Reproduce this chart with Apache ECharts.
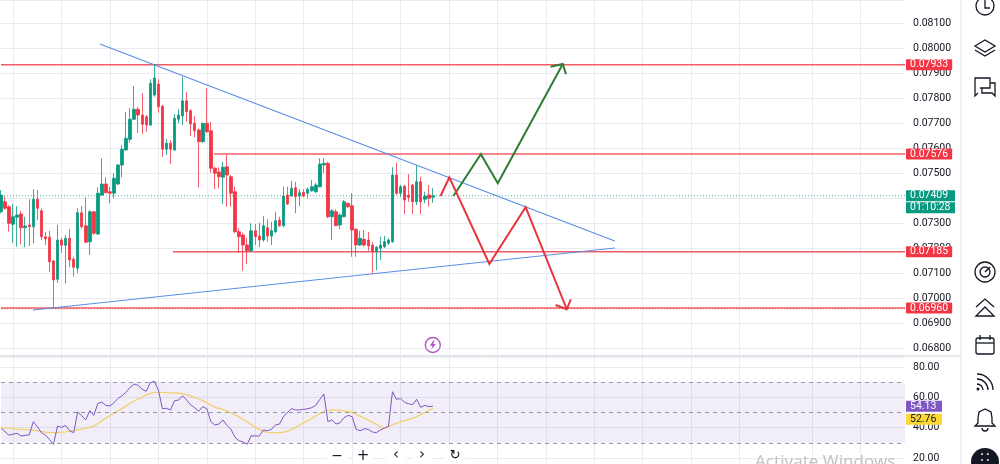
<!DOCTYPE html>
<html>
<head>
<meta charset="utf-8">
<style>
html,body{margin:0;padding:0;background:#fff}
#chart{width:1000px;height:464px}
</style>
<script src="https://cdn.jsdelivr.net/npm/echarts@6/dist/echarts.min.js"></script>
</head>
<body>
<div id="chart"></div>
<script>
const FONT = "Roboto, 'Noto Sans', sans-serif";

// hourly candles, oldest first
const opens = [0.07345,0.07385,0.07365,0.07295,0.07323,0.07336,0.07281,0.07292,0.07285,0.07395,
  0.07349,0.07245,0.07243,0.07148,0.07075,0.07232,0.07211,0.07239,0.07155,0.07119,
  0.07341,0.07289,0.07225,0.07345,0.07256,0.07412,0.07456,0.07425,0.07419,0.07456,
  0.07532,0.07592,0.07635,0.07715,0.07755,0.07732,0.07725,0.07692,0.07812,0.07856,
  0.07768,0.07595,0.07619,0.07592,0.07715,0.07728,0.07789,0.07749,0.07699,0.07672,
  0.07625,0.07699,0.07669,0.07519,0.07504,0.07483,0.07525,0.07485,0.07425,0.07265,
  0.07252,0.07212,0.07189,0.07269,0.07248,0.07232,0.07281,0.07248,0.07265,0.07312,
  0.07289,0.07412,0.07408,0.07441,0.07408,0.07423,0.07419,0.07429,0.07425,0.07445,
  0.07532,0.07539,0.07325,0.07345,0.07292,0.07325,0.07379,0.07369,0.07275,0.07212,
  0.07235,0.07232,0.07212,0.07185,0.07199,0.07205,0.07219,0.07225,0.07492,0.07419,
  0.07448,0.07412,0.07452,0.07385,0.07465,0.07395,0.07412,0.07403];
const closes = [0.07412,0.07359,0.07299,0.07325,0.07332,0.07281,0.07288,0.07285,0.07395,0.07359,
  0.07245,0.07236,0.07145,0.07072,0.07232,0.07211,0.07239,0.07152,0.07123,0.07341,
  0.07285,0.07223,0.07345,0.07259,0.07419,0.07456,0.07421,0.07419,0.07479,0.07532,
  0.07595,0.07639,0.07715,0.07755,0.07732,0.07695,0.07692,0.07859,0.07880,0.07765,
  0.07595,0.07619,0.07595,0.07719,0.07732,0.07789,0.07745,0.07696,0.07669,0.07625,
  0.07699,0.07665,0.07519,0.07499,0.07485,0.07523,0.07492,0.07419,0.07265,0.07245,
  0.07212,0.07189,0.07269,0.07245,0.07232,0.07289,0.07248,0.07269,0.07309,0.07289,
  0.07408,0.07376,0.07439,0.07405,0.07421,0.07408,0.07435,0.07445,0.07452,0.07536,
  0.07539,0.07325,0.07349,0.07289,0.07332,0.07385,0.07365,0.07272,0.07212,0.07239,
  0.07212,0.07208,0.07185,0.07203,0.07212,0.07225,0.07232,0.07492,0.07419,0.07445,
  0.07392,0.07403,0.07385,0.07465,0.07385,0.07408,0.07399,0.07409];
const lows = [0.07339,0.07352,0.07265,0.07221,0.07205,0.07215,0.07203,0.07208,0.07219,0.07312,
  0.07232,0.07212,0.07105,0.06962,0.07061,0.07181,0.07059,0.07123,0.07085,0.07099,
  0.07279,0.07219,0.07172,0.07252,0.07252,0.07408,0.07419,0.07379,0.07399,0.07452,
  0.07483,0.07590,0.07621,0.07712,0.07661,0.07656,0.07665,0.07688,0.07805,0.07741,
  0.07565,0.07572,0.07536,0.07589,0.07699,0.07692,0.07705,0.07648,0.07643,0.07443,
  0.07621,0.07661,0.07501,0.07435,0.07439,0.07376,0.07365,0.07365,0.07259,0.07181,
  0.07109,0.07136,0.07185,0.07212,0.07203,0.07225,0.07225,0.07212,0.07259,0.07285,
  0.07285,0.07372,0.07405,0.07339,0.07368,0.07403,0.07399,0.07425,0.07419,0.07443,
  0.07499,0.07319,0.07232,0.07288,0.07275,0.07323,0.07359,0.07165,0.07165,0.07208,
  0.07205,0.07189,0.07099,0.07112,0.07152,0.07199,0.07212,0.07221,0.07412,0.07405,
  0.07336,0.07385,0.07336,0.07372,0.07336,0.07379,0.07365,0.07381];
const highs = [0.07432,0.07408,0.07372,0.07376,0.07368,0.07349,0.07325,0.07395,0.07435,0.07432,
  0.07359,0.07265,0.07269,0.07152,0.07292,0.07241,0.07252,0.07275,0.07165,0.07359,
  0.07368,0.07401,0.07352,0.07347,0.07443,0.07559,0.07483,0.07445,0.07499,0.07536,
  0.07612,0.07745,0.07759,0.07848,0.07765,0.07819,0.07732,0.07875,0.07936,0.07875,
  0.07772,0.07635,0.07632,0.07736,0.07755,0.07885,0.07825,0.07755,0.07728,0.07679,
  0.07701,0.07839,0.07705,0.07525,0.07523,0.07545,0.07572,0.07492,0.07445,0.07279,
  0.07261,0.07239,0.07299,0.07296,0.07301,0.07328,0.07315,0.07305,0.07345,0.07325,
  0.07445,0.07445,0.07469,0.07465,0.07435,0.07435,0.07443,0.07472,0.07461,0.07559,
  0.07559,0.07545,0.07355,0.07355,0.07339,0.07392,0.07381,0.07419,0.07279,0.07269,
  0.07272,0.07265,0.07225,0.07208,0.07245,0.07248,0.07239,0.07523,0.07541,0.07452,
  0.07452,0.07496,0.07456,0.07531,0.07485,0.07425,0.07452,0.07439];

// RSI 14 and its moving average, one value per candle
const rsiValues = [39.8,37.4,35.0,35.8,36.3,34.5,35.0,35.2,44.0,40.7,
  36.7,35.2,32.3,29.0,41.1,40.2,41.5,38.0,36.7,50.3,
  47.9,45.1,51.2,48.1,56.0,56.9,54.7,54.3,56.5,59.3,
  61.1,63.5,66.6,68.8,67.9,65.3,64.0,69.7,70.6,64.8,
  52.5,52.8,51.7,57.8,58.2,61.1,58.2,55.0,53.2,50.8,
  53.9,52.5,44.0,41.8,42.4,45.1,41.5,38.9,33.6,31.4,
  30.6,29.0,34.7,34.5,34.5,38.5,38.0,38.9,41.8,42.4,
  47.3,50.1,52.5,51.7,51.7,52.1,52.5,53.2,54.7,58.7,
  62.2,44.0,45.1,42.4,43.3,46.6,48.1,47.3,38.9,38.0,
  39.3,38.9,37.2,36.7,38.5,39.6,40.9,63.7,58.7,59.3,
  56.7,55.8,55.2,58.7,53.4,54.7,53.9,54.13];
const rsiMa = [40.1,39.9,39.7,39.4,39.1,38.9,38.7,38.5,38.3,37.9,
  37.5,37.1,36.7,36.7,36.7,37.0,37.3,37.7,38.1,38.6,
  39.1,39.6,40.3,41.1,42.8,44.6,46.3,47.9,49.5,51.1,
  52.7,54.4,56.1,57.6,58.9,60.2,61.6,62.5,63.3,63.3,
  63.3,63.1,63.0,62.9,62.7,62.4,61.7,60.9,60.0,58.9,
  57.8,56.4,55.0,53.4,52.7,52.0,50.9,49.7,48.4,47.1,
  45.6,43.9,42.1,40.2,38.9,37.7,36.9,36.7,36.7,36.7,
  37.0,37.7,38.9,40.2,41.8,43.3,44.7,46.2,47.7,49.3,
  50.6,51.4,51.7,51.7,51.4,51.1,50.7,50.1,48.8,47.6,
  46.4,45.0,43.7,42.4,40.5,39.7,40.7,41.8,42.9,43.8,
  44.6,45.3,46.2,47.3,48.6,50.0,51.3,52.76];

const slotCount = 225;
const timeGridSlots = [3,15,27,39,51,63,75,87,99,111,123,135,147,159,171,183,201,213];

const levelPrices = [0.07933, 0.07576, 0.07185, 0.06960];
const levelStarts = [0, 52.8, 42.6, 0];
const lastPrice = 0.07409;
const countdown = "01:10:28";

const upperTrend = [[24.5, 0.08016], [152.1, 0.07228]];
const lowerTrend = [[7.9, 0.06952], [152.1, 0.07200]];
const bullPath = [[112.1, 0.07408], [118.9, 0.07575], [123.1, 0.07459], [139.2, 0.07936]];
const bullHead = [[136.2, 0.07925], [139.2, 0.07936], [140.0, 0.07895]];
const bearPath = [[108.9, 0.07408], [111.1, 0.07483], [121.0, 0.07136], [130.0, 0.07363], [140.2, 0.06955]];
const bearHead = [[137.4, 0.06972], [140.2, 0.06955], [141.2, 0.06995]];
const flashMark = [[107.0, 0.06812]];

const rsiLevels = [70, 50, 30];
const rsiLast = 54.13;
const maLast = 52.76;

const priceTicks = levelPrices.concat([lastPrice]);
const slots = Array.from({length: slotCount}, (_, i) => String(i));
const candles = opens.map((o, i) => [o, closes[i], lows[i], highs[i]]);

function gridLine(idx) { return timeGridSlots.indexOf(idx) >= 0; }

function priceTag(v) {
  const key = v.toFixed(5);
  if (key === lastPrice.toFixed(5)) return '{s| }\n{g|' + key + '}\n{g|' + countdown + '}';
  return '{r|' + key + '}';
}

const chart = echarts.init(document.getElementById('chart'));

function flatLine(name, x0, price, style) {
  return {
    name: name, type: 'line', xAxisIndex: 1, yAxisIndex: 0,
    data: [[x0, price], [slotCount - 1, price]],
    showSymbol: false, silent: true, lineStyle: style, z: 3
  };
}

function pathLine(name, pts, color, width) {
  return {
    name: name, type: 'line', xAxisIndex: 1, yAxisIndex: 0, data: pts,
    showSymbol: false, silent: true, z: 4,
    lineStyle: {color: color, width: width, join: 'miter'}
  };
}

let series = [{
  name: 'price', type: 'candlestick', xAxisIndex: 0, yAxisIndex: 0,
  data: candles, barWidth: 3, z: 5,
  itemStyle: {color: '#089981', color0: '#F23645', borderColor: '#089981', borderColor0: '#F23645', borderWidth: 0.8}
}];

series.push(flatLine('last', 0, lastPrice, {color: '#089981', type: [1, 2], width: 1, opacity: 0.75}));
levelPrices.forEach((p, i) => {
  series.push(flatLine('level' + i, levelStarts[i], p, {color: '#ee4b57', width: 1.5, opacity: 0.9}));
});
series.push(flatLine('alert', 0, 0.06957, {color: '#ef5350', width: 1, type: [1, 2]}));

series.push(pathLine('upper', upperTrend, '#5b8ee6', 1.2));
series.push(pathLine('lower', lowerTrend, '#5b8ee6', 1.2));
series.push(pathLine('bull', bullPath, '#2e7d32', 2));
series.push(pathLine('bullHead', bullHead, '#2e7d32', 2));
series.push(pathLine('bear', bearPath, '#e8323c', 2));
series.push(pathLine('bearHead', bearHead, '#e8323c', 2));

series.push({
  type: 'scatter', xAxisIndex: 1, yAxisIndex: 0, data: flashMark, silent: true, z: 6,
  symbol: 'circle', symbolSize: 15,
  itemStyle: {color: '#fff', borderColor: '#9c27b0', borderWidth: 1.3}
});
series.push({
  type: 'scatter', xAxisIndex: 1, yAxisIndex: 0, data: flashMark, silent: true, z: 7,
  symbol: 'path://M6,0 L1,7 L4.5,7 L3,12 L9,4.5 L5.5,4.5 L7.5,0 Z', symbolSize: [6, 9],
  itemStyle: {color: '#9c27b0'}
});

series.push({
  name: 'RSI', type: 'line', xAxisIndex: 2, yAxisIndex: 2, data: rsiValues,
  showSymbol: false, silent: true, z: 4,
  lineStyle: {color: '#7E57C2', width: 1},
  markArea: {silent: true, itemStyle: {color: 'rgba(126,87,194,0.1)'}, data: [[{yAxis: rsiLevels[2]}, {yAxis: rsiLevels[0]}]]},
  markLine: {
    silent: true, symbol: ['none', 'none'], label: {show: false},
    lineStyle: {color: '#9598a1', type: [4, 4], width: 1},
    data: rsiLevels.map(v => ({yAxis: v}))
  }
});
series.push({
  name: 'RSI MA', type: 'line', xAxisIndex: 2, yAxisIndex: 2, data: rsiMa,
  showSymbol: false, silent: true, z: 3,
  lineStyle: {color: '#F2D06B', width: 1.3}
});

const gridColor = '#e9ebf0';
const labelBase = {color: '#131722', fontSize: 10.5, fontFamily: FONT};

const option = {
  animation: false,
  backgroundColor: '#fff',
  grid: [
    {left: 1, right: 95, top: 0, height: 355},
    {left: 1, right: 95, top: 357, height: 107}
  ],
  xAxis: [
    {type: 'category', gridIndex: 0, data: slots, boundaryGap: false,
     axisLine: {show: false}, axisTick: {show: false}, axisLabel: {show: false},
     splitLine: {show: true, interval: gridLine, lineStyle: {color: gridColor}}},
    {type: 'value', gridIndex: 0, min: 0, max: slotCount - 1, show: false},
    {type: 'category', gridIndex: 1, data: slots, boundaryGap: false,
     axisLine: {show: false}, axisTick: {show: false}, axisLabel: {show: false},
     splitLine: {show: true, interval: gridLine, lineStyle: {color: gridColor}}}
  ],
  yAxis: [
    {type: 'value', gridIndex: 0, position: 'right', min: 0.06772, max: 0.08192, splitNumber: 14,
     axisLine: {show: false}, axisTick: {show: false},
     axisLabel: Object.assign({margin: 8, showMinLabel: false, showMaxLabel: false, formatter: v => v.toFixed(5)}, labelBase),
     splitLine: {lineStyle: {color: gridColor}}},
    {type: 'value', gridIndex: 0, position: 'right', min: 0.06772, max: 0.08192, z: 10,
     axisLine: {show: false}, axisTick: {show: false}, splitLine: {show: false},
     axisLabel: {customValues: priceTicks, margin: 1, formatter: priceTag, fontFamily: FONT, fontSize: 10.5,
       rich: {
         r: {backgroundColor: '#F23645', color: '#fff', fontSize: 10.5, fontFamily: FONT, lineHeight: 14, padding: [0, 4, 0, 4], borderRadius: 1},
         g: {backgroundColor: '#089981', color: '#fff', fontSize: 10.5, fontFamily: FONT, lineHeight: 12, width: 41, padding: [0, 4, 0, 4]},
         s: {lineHeight: 12, fontSize: 10, color: 'rgba(0,0,0,0)'}
       }}},
    {type: 'value', gridIndex: 1, position: 'right', min: 16.06, max: 86.6, splitNumber: 4,
     axisLine: {show: false}, axisTick: {show: false},
     axisLabel: Object.assign({margin: 8, showMinLabel: false, showMaxLabel: false, formatter: v => v.toFixed(2)}, labelBase),
     splitLine: {lineStyle: {color: gridColor}}},
    {type: 'value', gridIndex: 1, position: 'right', min: 16.06, max: 86.6, z: 10,
     axisLine: {show: false}, axisTick: {show: false}, splitLine: {show: false},
     axisLabel: {customValues: [rsiLast], margin: 1, fontFamily: FONT, fontSize: 10.5,
       formatter: () => '{s| }\n{p|' + rsiLast.toFixed(2) + '}\n{y|' + maLast.toFixed(2) + '}',
       rich: {
         p: {backgroundColor: '#7E57C2', color: '#fff', fontSize: 10.5, fontFamily: FONT, lineHeight: 13, width: 28, padding: [0, 4, 0, 4]},
         y: {backgroundColor: '#FDD835', color: '#131722', fontSize: 10.5, fontFamily: FONT, lineHeight: 13, width: 28, padding: [0, 4, 0, 4]},
         s: {lineHeight: 13, fontSize: 10, color: 'rgba(0,0,0,0)'}
       }}}
  ],
  series: series,
  graphic: [
    {type: 'line', shape: {x1: 961, y1: 0, x2: 961, y2: 464}, style: {stroke: '#e0e3eb', lineWidth: 1}, z: 20},
    {type: 'line', shape: {x1: 0, y1: 356, x2: 961, y2: 356}, style: {stroke: '#d1d4dc', lineWidth: 1}, z: 20},
    // right toolbar
    {type: 'circle', shape: {cx: 985, cy: 6, r: 9}, style: {fill: 'none', stroke: '#131722', lineWidth: 1.3}, z: 20},
    {type: 'polyline', shape: {points: [[985, 0], [985, 8], [990, 8]]}, style: {fill: 'none', stroke: '#131722', lineWidth: 1.3}, z: 20},
    {type: 'polygon', shape: {points: [[975, 46], [985, 40], [995, 46], [985, 52]]}, style: {fill: 'none', stroke: '#131722', lineWidth: 1.3}, z: 20},
    {type: 'polyline', shape: {points: [[975, 50], [985, 56], [995, 50]]}, style: {fill: 'none', stroke: '#131722', lineWidth: 1.3}, z: 20},
    {type: 'polyline', shape: {points: [[978, 93], [975, 96], [975, 78], [990, 78], [990, 88], [980, 88]]}, style: {fill: 'none', stroke: '#131722', lineWidth: 1.3}, z: 20},
    {type: 'polyline', shape: {points: [[990, 83], [995, 83], [995, 96], [992, 93], [982, 93], [982, 88]]}, style: {fill: 'none', stroke: '#131722', lineWidth: 1.3}, z: 20},
    {type: 'circle', shape: {cx: 985, cy: 272, r: 10}, style: {fill: 'none', stroke: '#131722', lineWidth: 1.3}, z: 20},
    {type: 'circle', shape: {cx: 985, cy: 272, r: 5}, style: {fill: 'none', stroke: '#131722', lineWidth: 1.3}, z: 20},
    {type: 'line', shape: {x1: 985, y1: 272, x2: 990, y2: 267}, style: {stroke: '#131722', lineWidth: 1.5}, z: 20},
    {type: 'polyline', shape: {points: [[976, 307], [985, 299], [994, 307]]}, style: {fill: 'none', stroke: '#131722', lineWidth: 1.3}, z: 20},
    {type: 'polygon', shape: {points: [[976, 316], [985, 307], [994, 316]]}, style: {fill: 'none', stroke: '#131722', lineWidth: 1.3}, z: 20},
    {type: 'rect', shape: {x: 976, y: 338, width: 18, height: 16, r: 2}, style: {fill: 'none', stroke: '#131722', lineWidth: 1.3}, z: 20},
    {type: 'line', shape: {x1: 976, y1: 343, x2: 994, y2: 343}, style: {stroke: '#131722', lineWidth: 1.3}, z: 20},
    {type: 'line', shape: {x1: 980, y1: 335, x2: 980, y2: 340}, style: {stroke: '#131722', lineWidth: 1.3}, z: 20},
    {type: 'line', shape: {x1: 990, y1: 335, x2: 990, y2: 340}, style: {stroke: '#131722', lineWidth: 1.3}, z: 20},
    {type: 'arc', shape: {cx: 977, cy: 390, r: 6, startAngle: -Math.PI / 2, endAngle: 0}, style: {fill: 'none', stroke: '#131722', lineWidth: 1.3}, z: 20},
    {type: 'arc', shape: {cx: 977, cy: 390, r: 11, startAngle: -Math.PI / 2, endAngle: 0}, style: {fill: 'none', stroke: '#131722', lineWidth: 1.3}, z: 20},
    {type: 'arc', shape: {cx: 977, cy: 390, r: 16, startAngle: -Math.PI / 2, endAngle: 0}, style: {fill: 'none', stroke: '#131722', lineWidth: 1.3}, z: 20},
    {type: 'circle', shape: {cx: 978, cy: 389, r: 1.5}, style: {fill: '#131722'}, z: 20},
    {type: 'polygon', shape: {points: [[985, 409], [979, 412], [978, 418], [978, 423], [975, 426], [995, 426], [992, 423], [992, 418], [991, 412]]}, style: {fill: 'none', stroke: '#131722', lineWidth: 1.3}, z: 20},
    {type: 'arc', shape: {cx: 985, cy: 428, r: 3, startAngle: 0, endAngle: Math.PI}, style: {fill: 'none', stroke: '#131722', lineWidth: 1.3}, z: 20},
    {type: 'circle', shape: {cx: 985, cy: 462, r: 14}, style: {fill: '#131722'}, z: 20},
    {type: 'text', x: 985, y: 458, style: {text: '\u2237', fill: '#fff', fontSize: 14, align: 'center', verticalAlign: 'middle', fontFamily: 'DejaVu Sans'}, z: 21},
    // bottom navigation buttons
    {type: 'rect', shape: {x: 327, y: 446, width: 20, height: 20, r: 3}, style: {fill: '#fff'}, z: 20},
    {type: 'rect', shape: {x: 353, y: 446, width: 20, height: 20, r: 3}, style: {fill: '#fff'}, z: 20},
    {type: 'rect', shape: {x: 386, y: 446, width: 20, height: 20, r: 3}, style: {fill: '#fff'}, z: 20},
    {type: 'rect', shape: {x: 412, y: 446, width: 20, height: 20, r: 3}, style: {fill: '#fff'}, z: 20},
    {type: 'rect', shape: {x: 445, y: 446, width: 20, height: 20, r: 3}, style: {fill: '#fff'}, z: 20},
    {type: 'text', x: 337, y: 456, style: {text: '\u2212', fill: '#131722', fontSize: 14, align: 'center', verticalAlign: 'middle', fontFamily: 'DejaVu Sans'}, z: 21},
    {type: 'text', x: 363, y: 456, style: {text: '+', fill: '#131722', fontSize: 15, align: 'center', verticalAlign: 'middle', fontFamily: 'DejaVu Sans'}, z: 21},
    {type: 'text', x: 396, y: 455, style: {text: '\u2039', fill: '#131722', fontSize: 15, align: 'center', verticalAlign: 'middle', fontFamily: 'DejaVu Sans'}, z: 21},
    {type: 'text', x: 422, y: 455, style: {text: '\u203A', fill: '#131722', fontSize: 15, align: 'center', verticalAlign: 'middle', fontFamily: 'DejaVu Sans'}, z: 21},
    {type: 'text', x: 455, y: 456, style: {text: '\u21BB', fill: '#131722', fontSize: 13, align: 'center', verticalAlign: 'middle', fontFamily: 'DejaVu Sans'}, z: 21},
    {type: 'text', x: 755, y: 454, style: {text: 'Activate Windows', fill: '#c4c4c4', fontSize: 17, fontFamily: "'Noto Sans', sans-serif"}, z: 21}
  ]
};

chart.setOption(option);
</script>
</body>
</html>
